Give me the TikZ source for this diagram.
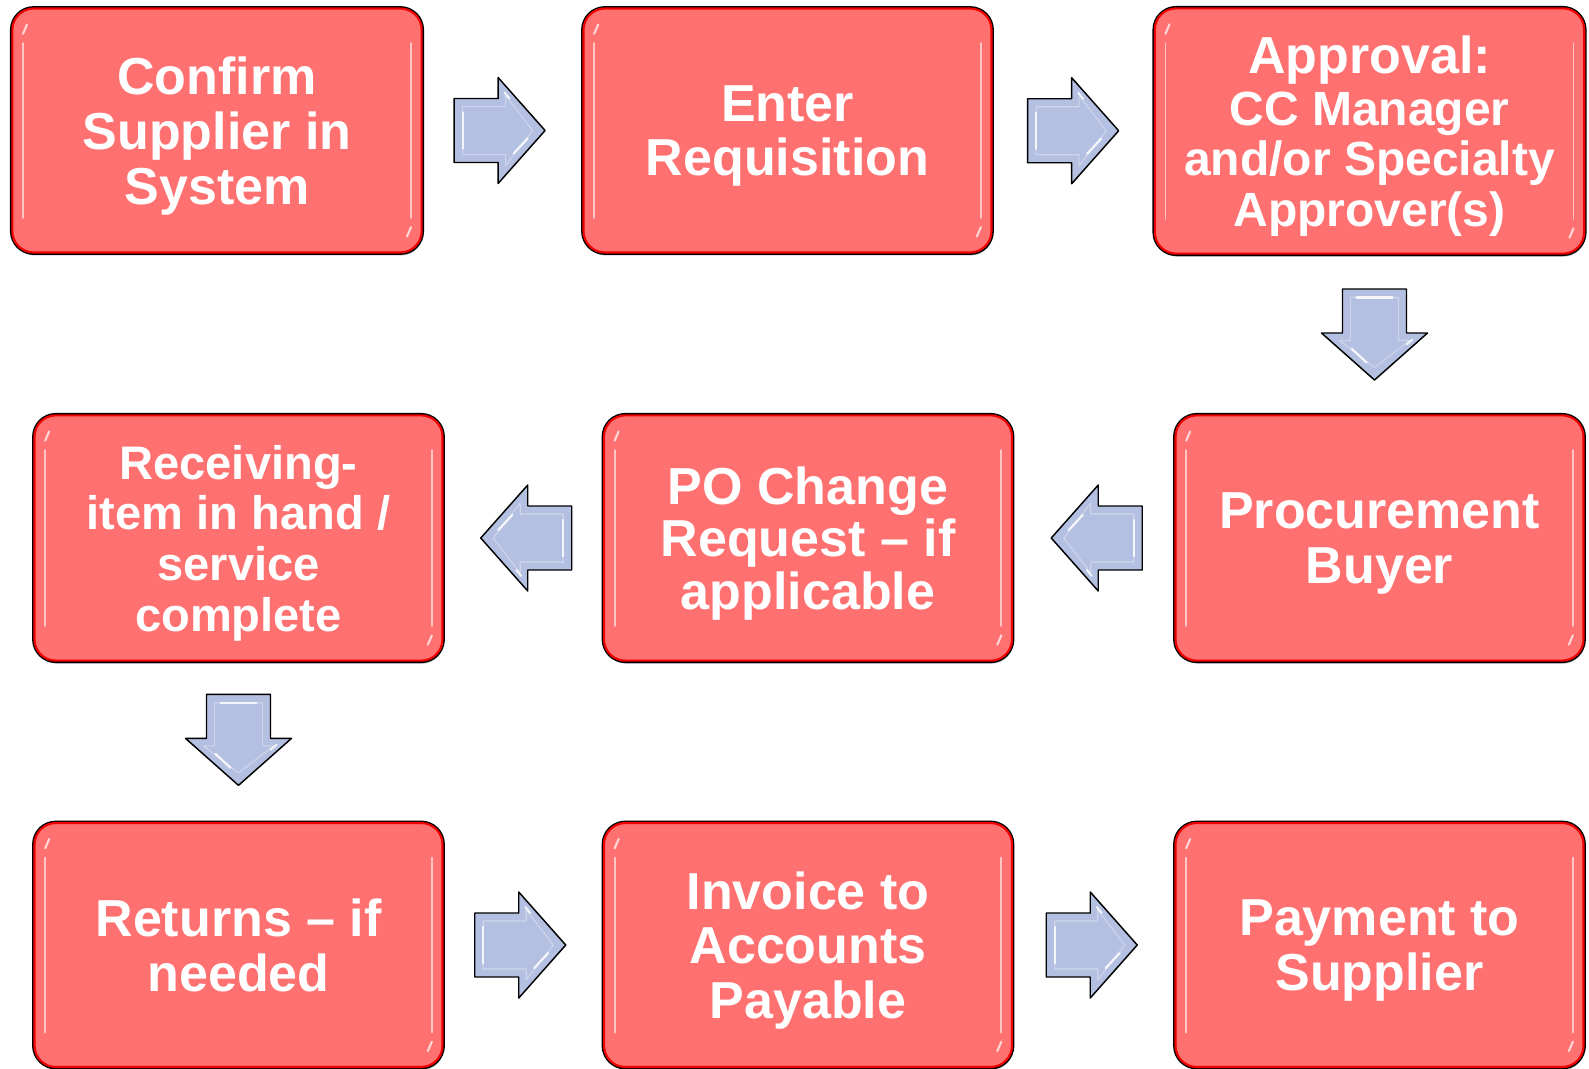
\documentclass[tikz,border=0pt]{standalone}
\usepackage{fontspec}
\setmainfont{Liberation Sans}
\usetikzlibrary{calc,shadows}

\definecolor{boxfill}{RGB}{255,112,112}
\definecolor{boxedge}{RGB}{240,0,0}
\definecolor{arrowfill}{RGB}{180,192,225}

\tikzset{
  % red process step with gloss edges
  stepbox/.style={
    rounded corners=16pt,
    drop shadow={shadow xshift=0.8pt, shadow yshift=-2.2pt, opacity=0.3, fill=black},
    preaction={draw=black, line width=3.6pt},
    fill=boxfill, draw=boxedge, line width=1.6pt,
    minimum height=183pt, inner sep=0pt, align=center, text=white,
    text depth=0pt,
    font=\bfseries\fontsize{39}{41}\selectfont,
    path picture={
      \draw[white, opacity=0.6, line width=1.4pt, line cap=round]
        ([xshift=8pt,yshift=-26pt]path picture bounding box.north west) --
        ([xshift=8pt,yshift=26pt]path picture bounding box.south west);
      \draw[white, opacity=0.6, line width=1.4pt, line cap=round]
        ([xshift=-8pt,yshift=-26pt]path picture bounding box.north east) --
        ([xshift=-8pt,yshift=26pt]path picture bounding box.south east);
      \draw[white, opacity=0.7, line width=1.6pt, line cap=round]
        ([xshift=8pt,yshift=-19pt]path picture bounding box.north west) --
        ([xshift=11pt,yshift=-12pt]path picture bounding box.north west);
      \draw[white, opacity=0.7, line width=1.6pt, line cap=round]
        ([xshift=-8pt,yshift=19pt]path picture bounding box.south east) --
        ([xshift=-11pt,yshift=12pt]path picture bounding box.south east);
    }},
  % blue block arrow pointing right, 91 x 106 px
  barrow/.pic={
    \path[fill=arrowfill, draw=black, line width=1.1pt, line join=round]
      (-45.5,-32) -- (-1.5,-32) -- (-1.5,-53) -- (45.5,0) -- (-1.5,53)
      -- (-1.5,32) -- (-45.5,32) -- cycle;
    \draw[white, opacity=0.35, line width=0.8pt, line join=round]
      (-37,-24) -- (6,-24) -- (6,-35) -- (33,0) -- (6,35) -- (6,24) -- (-37,24) -- cycle;
    \draw[white, opacity=0.85, line width=1.6pt, line cap=round] (-37,-18) -- (-37,18);
    \draw[white, opacity=0.85, line width=1.6pt, line cap=round] (28,8) -- (14,23);
    \draw[white, opacity=0.85, line width=1.4pt, line cap=round] (5,-38) -- (10,-32);
  }
}

\begin{document}
\begin{tikzpicture}[x=0.75pt, y=-0.75pt]
\fill[white] (0,0) rectangle (1589,1068);
\useasboundingbox (0,0) rectangle (1589,1068);

% first row
\node[stepbox, minimum width=307pt] (b1) at (217,130.5) {Confirm\\Supplier in\\System};
\node[stepbox, minimum width=306pt] (b2) at (787.5,130.5) {Enter\\Requisition};
\node[stepbox, minimum width=322pt, minimum height=184pt] (b3) at (1369.5,131)
  {Approval:\\[-2pt]{\fontsize{36}{37.5}\selectfont CC Manager}\\[-3pt]
   {\fontsize{36}{37.5}\selectfont and/or Specialty}\\[-3pt]
   {\fontsize{36}{37.5}\selectfont Approver(s)}};

% second row
\node[stepbox, minimum width=306pt, minimum height=184pt] (b4) at (238.5,538)
  {\fontsize{35.3}{36.8}\selectfont Receiving-\\[-3pt]\fontsize{35.3}{36.8}\selectfont item in hand /\\[-3pt]
   \fontsize{35.3}{36.8}\selectfont service\\[-3pt]\fontsize{35.3}{36.8}\selectfont complete};
\node[stepbox, minimum width=306pt, minimum height=184pt] (b5) at (808,538)
  {PO Change\\[-1.5pt]Request -- if\\[-1.5pt]applicable};
\node[stepbox, minimum width=306pt, minimum height=184pt] (b6) at (1379.5,538) {Procurement\\Buyer};

% third row
\node[stepbox, minimum width=306pt] (b7) at (238.5,945) {Returns -- if\\needed};
\node[stepbox, minimum width=306pt] (b8) at (808,945) {Invoice to\\Accounts\\Payable};
\node[stepbox, minimum width=306pt] (b9) at (1379.5,945) {Payment to\\Supplier};

% block arrows between the steps
\pic at ($(b1.east)!0.5!(b2.west)+(-3,0)$) {barrow};
\pic at ($(b2.east)!0.5!(b3.west)$) {barrow};
\pic[rotate=-90] at ($(b3.south)!0.5!(b6.north)$) {barrow};
\pic[rotate=180] at ($(b6.west)!0.5!(b5.east)+(3,0)$) {barrow};
\pic[rotate=180] at ($(b5.west)!0.5!(b4.east)+(3,0)$) {barrow};
\pic[rotate=-90] at ($(b4.south)!0.5!(b7.north)+(0,-2)$) {barrow};
\pic at ($(b7.east)!0.5!(b8.west)+(-3,0)$) {barrow};
\pic at ($(b8.east)!0.5!(b9.west)+(-2,0)$) {barrow};
\end{tikzpicture}
\end{document}
